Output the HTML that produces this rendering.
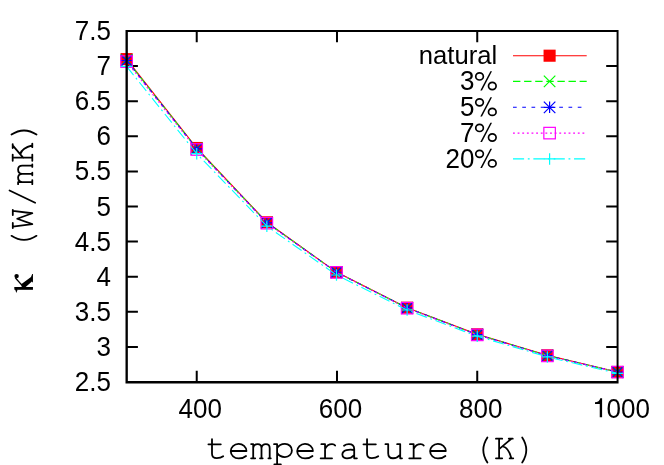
<!DOCTYPE html>
<html><head><meta charset="utf-8"><title>plot</title>
<style>
html,body{margin:0;padding:0;background:#fff;}
body{width:664px;height:465px;overflow:hidden;}
svg{display:block;will-change:transform;}
text{font-family:"Liberation Sans",sans-serif;fill:#000;}
.t{font-size:26px;}
.m{font-family:"Liberation Mono",monospace;}
.s{font-family:"Liberation Serif",serif;}
</style></head><body>
<svg width="664" height="465" viewBox="0 0 664 465">
<rect width="664" height="465" fill="#fff"/>
<path d="M126.6 66.10h11.3M617.5 66.10h-11.3M126.6 101.20h11.3M617.5 101.20h-11.3M126.6 136.30h11.3M617.5 136.30h-11.3M126.6 171.40h11.3M617.5 171.40h-11.3M126.6 206.50h11.3M617.5 206.50h-11.3M126.6 241.60h11.3M617.5 241.60h-11.3M126.6 276.70h11.3M617.5 276.70h-11.3M126.6 311.80h11.3M617.5 311.80h-11.3M126.6 346.90h11.3M617.5 346.90h-11.3M196.73 382.0v-11.3M196.73 31.0v11.3M336.99 382.0v-11.3M336.99 31.0v11.3M477.24 382.0v-11.3M477.24 31.0v11.3" stroke="#000" stroke-width="2.0" fill="none"/>
<g>
<text class="t" transform="translate(497.2,63.80) scale(0.987,1)" text-anchor="end">natural</text>
<path d="M513.0 55.7L586.7 55.7" stroke="#ff0000" stroke-width="1.1" fill="none"/>
<rect x="543.55" y="49.65" width="12.10" height="12.10" fill="#ff0000"/>
<polyline points="126.60,59.10 196.73,148.00 266.86,222.30 336.49,272.10 407.11,307.70 477.24,334.30 547.37,355.30 617.50,372.00" stroke="#ff0000" stroke-width="1.1" fill="none"/>
<rect x="120.55" y="53.05" width="12.10" height="12.10" fill="#ff0000"/>
<rect x="190.68" y="141.95" width="12.10" height="12.10" fill="#ff0000"/>
<rect x="260.81" y="216.25" width="12.10" height="12.10" fill="#ff0000"/>
<rect x="330.44" y="266.05" width="12.10" height="12.10" fill="#ff0000"/>
<rect x="401.06" y="301.65" width="12.10" height="12.10" fill="#ff0000"/>
<rect x="471.19" y="328.25" width="12.10" height="12.10" fill="#ff0000"/>
<rect x="541.32" y="349.25" width="12.10" height="12.10" fill="#ff0000"/>
<rect x="611.45" y="365.95" width="12.10" height="12.10" fill="#ff0000"/>
</g>
<g>
<text class="t" transform="translate(474.50,90.25) scale(1,1.04)" text-anchor="end">3</text><g transform="translate(497.60,90.25)"><path fill="#000" d="M-7.2 -19H-5.6L-15.6 0.3H-17.3Z"/><ellipse cx="-18.05" cy="-13.8" rx="3.8" ry="3.55" fill="none" stroke="#000" stroke-width="1.7"/><ellipse cx="-5.3" cy="-4.25" rx="3.8" ry="3.55" fill="none" stroke="#000" stroke-width="1.7"/></g>
<path d="M513.0 81.4L586.7 81.4" stroke="#00ff00" stroke-width="1.1" fill="none" stroke-dasharray="7.40 3.70"/>
<path d="M543.85 75.65L555.35 87.15M543.85 87.15L555.35 75.65" stroke="#00ff00" stroke-width="1.2" fill="none"/>
<polyline points="126.60,59.98 196.73,148.53 266.86,222.62 336.49,272.20 407.11,307.88 477.24,334.51 547.37,355.51 617.50,372.04" stroke="#00ff00" stroke-width="1.1" fill="none" stroke-dasharray="7.40 3.70"/>
<path d="M120.85 54.23L132.35 65.72M120.85 65.72L132.35 54.23" stroke="#00ff00" stroke-width="1.2" fill="none"/>
<path d="M190.98 142.78L202.48 154.28M190.98 154.28L202.48 142.78" stroke="#00ff00" stroke-width="1.2" fill="none"/>
<path d="M261.11 216.87L272.61 228.37M261.11 228.37L272.61 216.87" stroke="#00ff00" stroke-width="1.2" fill="none"/>
<path d="M330.74 266.45L342.24 277.95M330.74 277.95L342.24 266.45" stroke="#00ff00" stroke-width="1.2" fill="none"/>
<path d="M401.36 302.12L412.86 313.62M401.36 313.62L412.86 302.12" stroke="#00ff00" stroke-width="1.2" fill="none"/>
<path d="M471.49 328.76L482.99 340.26M471.49 340.26L482.99 328.76" stroke="#00ff00" stroke-width="1.2" fill="none"/>
<path d="M541.62 349.76L553.12 361.26M541.62 361.26L553.12 349.76" stroke="#00ff00" stroke-width="1.2" fill="none"/>
<path d="M611.75 366.29L623.25 377.79M611.75 377.79L623.25 366.29" stroke="#00ff00" stroke-width="1.2" fill="none"/>
</g>
<g>
<text class="t" transform="translate(474.50,116.15) scale(1,1.04)" text-anchor="end">5</text><g transform="translate(497.60,116.15)"><path fill="#000" d="M-7.2 -19H-5.6L-15.6 0.3H-17.3Z"/><ellipse cx="-18.05" cy="-13.8" rx="3.8" ry="3.55" fill="none" stroke="#000" stroke-width="1.7"/><ellipse cx="-5.3" cy="-4.25" rx="3.8" ry="3.55" fill="none" stroke="#000" stroke-width="1.7"/></g>
<path d="M513.0 107.3L586.7 107.3" stroke="#0000ff" stroke-width="1.1" fill="none" stroke-dasharray="3.70 5.55"/>
<path d="M543.85 101.55L555.35 113.05M543.85 113.05L555.35 101.55" stroke="#0000ff" stroke-width="1.2" fill="none"/><path d="M543.85 107.30L555.35 107.30M549.60 101.55L549.60 113.05" stroke="#0000ff" stroke-width="1.2" fill="none"/>
<polyline points="126.60,60.48 196.73,148.82 266.86,222.79 336.49,272.26 407.11,307.97 477.24,334.63 547.37,355.63 617.50,372.06" stroke="#0000ff" stroke-width="1.1" fill="none" stroke-dasharray="3.70 5.55"/>
<path d="M120.85 54.73L132.35 66.22M120.85 66.22L132.35 54.73" stroke="#0000ff" stroke-width="1.2" fill="none"/><path d="M120.85 60.48L132.35 60.48M126.60 54.73L126.60 66.22" stroke="#0000ff" stroke-width="1.2" fill="none"/>
<path d="M190.98 143.07L202.48 154.57M190.98 154.57L202.48 143.07" stroke="#0000ff" stroke-width="1.2" fill="none"/><path d="M190.98 148.82L202.48 148.82M196.73 143.07L196.73 154.57" stroke="#0000ff" stroke-width="1.2" fill="none"/>
<path d="M261.11 217.04L272.61 228.54M261.11 228.54L272.61 217.04" stroke="#0000ff" stroke-width="1.2" fill="none"/><path d="M261.11 222.79L272.61 222.79M266.86 217.04L266.86 228.54" stroke="#0000ff" stroke-width="1.2" fill="none"/>
<path d="M330.74 266.51L342.24 278.01M330.74 278.01L342.24 266.51" stroke="#0000ff" stroke-width="1.2" fill="none"/><path d="M330.74 272.26L342.24 272.26M336.49 266.51L336.49 278.01" stroke="#0000ff" stroke-width="1.2" fill="none"/>
<path d="M401.36 302.22L412.86 313.72M401.36 313.72L412.86 302.22" stroke="#0000ff" stroke-width="1.2" fill="none"/><path d="M401.36 307.97L412.86 307.97M407.11 302.22L407.11 313.72" stroke="#0000ff" stroke-width="1.2" fill="none"/>
<path d="M471.49 328.88L482.99 340.38M471.49 340.38L482.99 328.88" stroke="#0000ff" stroke-width="1.2" fill="none"/><path d="M471.49 334.63L482.99 334.63M477.24 328.88L477.24 340.38" stroke="#0000ff" stroke-width="1.2" fill="none"/>
<path d="M541.62 349.88L553.12 361.38M541.62 361.38L553.12 349.88" stroke="#0000ff" stroke-width="1.2" fill="none"/><path d="M541.62 355.63L553.12 355.63M547.37 349.88L547.37 361.38" stroke="#0000ff" stroke-width="1.2" fill="none"/>
<path d="M611.75 366.31L623.25 377.81M611.75 377.81L623.25 366.31" stroke="#0000ff" stroke-width="1.2" fill="none"/><path d="M611.75 372.06L623.25 372.06M617.50 366.31L617.50 377.81" stroke="#0000ff" stroke-width="1.2" fill="none"/>
</g>
<g>
<text class="t" transform="translate(474.50,141.75) scale(1,1.04)" text-anchor="end">7</text><g transform="translate(497.60,141.75)"><path fill="#000" d="M-7.2 -19H-5.6L-15.6 0.3H-17.3Z"/><ellipse cx="-18.05" cy="-13.8" rx="3.8" ry="3.55" fill="none" stroke="#000" stroke-width="1.7"/><ellipse cx="-5.3" cy="-4.25" rx="3.8" ry="3.55" fill="none" stroke="#000" stroke-width="1.7"/></g>
<path d="M513.0 133.1L586.7 133.1" stroke="#ff00ff" stroke-width="1.1" fill="none" stroke-dasharray="1.85 2.78"/>
<rect x="543.85" y="127.35" width="11.50" height="11.50" fill="none" stroke="#ff00ff" stroke-width="1.2"/>
<polyline points="126.60,61.60 196.73,149.50 266.86,223.20 336.49,272.40 407.11,308.20 477.24,334.90 547.37,355.90 617.50,372.10" stroke="#ff00ff" stroke-width="1.1" fill="none" stroke-dasharray="1.85 2.78"/>
<rect x="120.85" y="55.85" width="11.50" height="11.50" fill="none" stroke="#ff00ff" stroke-width="1.2"/>
<rect x="190.98" y="143.75" width="11.50" height="11.50" fill="none" stroke="#ff00ff" stroke-width="1.2"/>
<rect x="261.11" y="217.45" width="11.50" height="11.50" fill="none" stroke="#ff00ff" stroke-width="1.2"/>
<rect x="330.74" y="266.65" width="11.50" height="11.50" fill="none" stroke="#ff00ff" stroke-width="1.2"/>
<rect x="401.36" y="302.45" width="11.50" height="11.50" fill="none" stroke="#ff00ff" stroke-width="1.2"/>
<rect x="471.49" y="329.15" width="11.50" height="11.50" fill="none" stroke="#ff00ff" stroke-width="1.2"/>
<rect x="541.62" y="350.15" width="11.50" height="11.50" fill="none" stroke="#ff00ff" stroke-width="1.2"/>
<rect x="611.75" y="366.35" width="11.50" height="11.50" fill="none" stroke="#ff00ff" stroke-width="1.2"/>
</g>
<g>
<text class="t" transform="translate(474.50,167.65) scale(1,1.04)" text-anchor="end">20</text><g transform="translate(497.60,167.65)"><path fill="#000" d="M-7.2 -19H-5.6L-15.6 0.3H-17.3Z"/><ellipse cx="-18.05" cy="-13.8" rx="3.8" ry="3.55" fill="none" stroke="#000" stroke-width="1.7"/><ellipse cx="-5.3" cy="-4.25" rx="3.8" ry="3.55" fill="none" stroke="#000" stroke-width="1.7"/></g>
<path d="M513.0 158.9L586.7 158.9" stroke="#00ffff" stroke-width="1.1" fill="none" stroke-dasharray="11.10 3.70 1.85 3.70"/>
<path d="M543.85 158.90L555.35 158.90M549.60 153.15L549.60 164.65" stroke="#00ffff" stroke-width="1.2" fill="none"/>
<polyline points="126.60,66.40 196.73,153.70 266.86,226.20 336.49,275.00 407.11,310.00 477.24,336.20 547.37,356.90 617.50,373.40" stroke="#00ffff" stroke-width="1.1" fill="none" stroke-dasharray="11.10 3.70 1.85 3.70"/>
<path d="M120.85 66.40L132.35 66.40M126.60 60.65L126.60 72.15" stroke="#00ffff" stroke-width="1.2" fill="none"/>
<path d="M190.98 153.70L202.48 153.70M196.73 147.95L196.73 159.45" stroke="#00ffff" stroke-width="1.2" fill="none"/>
<path d="M261.11 226.20L272.61 226.20M266.86 220.45L266.86 231.95" stroke="#00ffff" stroke-width="1.2" fill="none"/>
<path d="M330.74 275.00L342.24 275.00M336.49 269.25L336.49 280.75" stroke="#00ffff" stroke-width="1.2" fill="none"/>
<path d="M401.36 310.00L412.86 310.00M407.11 304.25L407.11 315.75" stroke="#00ffff" stroke-width="1.2" fill="none"/>
<path d="M471.49 336.20L482.99 336.20M477.24 330.45L477.24 341.95" stroke="#00ffff" stroke-width="1.2" fill="none"/>
<path d="M541.62 356.90L553.12 356.90M547.37 351.15L547.37 362.65" stroke="#00ffff" stroke-width="1.2" fill="none"/>
<path d="M611.75 373.40L623.25 373.40M617.50 367.65L617.50 379.15" stroke="#00ffff" stroke-width="1.2" fill="none"/>
</g>
<path fill="#000" d="M125.5 30H618.55V32H125.5ZM125.5 381H618.55V383.5H125.5ZM125.5 30H127.85V383.5H125.5ZM616.6 30H618.55V383.5H616.6Z"/>
<text class="t" transform="translate(111.00,40.07) scale(1,1.04)" text-anchor="end">7.5</text>
<text class="t" transform="translate(111.00,75.17) scale(1,1.04)" text-anchor="end">7</text>
<text class="t" transform="translate(111.00,110.27) scale(1,1.04)" text-anchor="end">6.5</text>
<text class="t" transform="translate(111.00,145.37) scale(1,1.04)" text-anchor="end">6</text>
<text class="t" transform="translate(111.00,180.47) scale(1,1.04)" text-anchor="end">5.5</text>
<text class="t" transform="translate(111.00,215.57) scale(1,1.04)" text-anchor="end">5</text>
<text class="t" transform="translate(111.00,250.67) scale(1,1.04)" text-anchor="end">4.5</text>
<text class="t" transform="translate(111.00,285.77) scale(1,1.04)" text-anchor="end">4</text>
<text class="t" transform="translate(111.00,320.87) scale(1,1.04)" text-anchor="end">3.5</text>
<text class="t" transform="translate(111.00,355.97) scale(1,1.04)" text-anchor="end">3</text>
<text class="t" transform="translate(111.00,391.07) scale(1,1.04)" text-anchor="end">2.5</text>
<text class="t" transform="translate(200.23,417.80) scale(1,1.04)" text-anchor="middle">400</text>
<text class="t" transform="translate(340.49,417.80) scale(1,1.04)" text-anchor="middle">600</text>
<text class="t" transform="translate(480.74,417.80) scale(1,1.04)" text-anchor="middle">800</text>
<text class="t" transform="translate(649.92,417.80) scale(1,1.04)" text-anchor="end">000</text>
<path fill="#000" d="M602.1 398.2V417.3H599.75V403.9H595V402.2C597.9 402.1 599.6 400.9 600.3 398.2Z"/>
<g transform="translate(205.5,458.3)" stroke="#000" stroke-width="1.8" fill="none" stroke-linecap="round" stroke-linejoin="round"><path transform="translate(0.00,0)" d="M6.5 -19.1V-4.6Q6.5 -0.1 11.3 -0.1Q15.3 -0.1 17.7 -2M2.9 -14H15.3"/><path transform="translate(22.15,0)" d="M18.8 -7.3H3.1M18.8 -7.3A7.85 7.3 0 1 0 10.95 0.15Q15.6 0.15 18.4 -2.3"/><path transform="translate(44.30,0)" d="M1.3 -14.2H3.4V0M1.3 0H5.4M3.4 -10.3Q3.9 -14.2 7.9 -14.2Q11.7 -14.2 11.7 -10V0M10.2 0H12.9M11.7 -10.3Q12.2 -14.2 16.1 -14.2Q19.9 -14.2 19.9 -10V0M18.6 0H21"/><path transform="translate(66.45,0)" d="M2.1 -14.1H5.15V6M2.4 6H8.9M5.15 -10.2C6.8 -13.2 10 -14.45 13 -14.45C17 -14.45 19.95 -11.6 19.95 -7.85C19.95 -4.1 17 -1.25 13 -1.25C10 -1.25 6.8 -2.5 5.15 -5.5"/><path transform="translate(88.60,0)" d="M18.8 -7.3H3.1M18.8 -7.3A7.85 7.3 0 1 0 10.95 0.15Q15.6 0.15 18.4 -2.3"/><path transform="translate(110.75,0)" d="M5.1 -14.1H8.8V0M4.4 0H15.8M8.8 -9.3Q11 -14.2 15.8 -14.2Q18 -14.2 18.9 -12.8"/><path transform="translate(132.90,0)" d="M5.6 -12.6Q7.6 -14.2 10.5 -14.2Q15.8 -14.2 15.8 -9.5V0H18.5M15.8 -8.3C11 -9.4 3.95 -8.4 3.95 -3.7C3.95 -0.9 6.5 0.1 8.6 0.1C11.5 0.1 14 -1.2 15.8 -3.2"/><path transform="translate(155.05,0)" d="M6.5 -19.1V-4.6Q6.5 -0.1 11.3 -0.1Q15.3 -0.1 17.7 -2M2.9 -14H15.3"/><path transform="translate(177.20,0)" d="M2.75 -14.1H5.5V-5Q5.5 -0.05 10.3 -0.05Q14.5 -0.05 17.5 -3.4M14.45 -14.1H17.5V0H19.3"/><path transform="translate(199.35,0)" d="M5.1 -14.1H8.8V0M4.4 0H15.8M8.8 -9.3Q11 -14.2 15.8 -14.2Q18 -14.2 18.9 -12.8"/><path transform="translate(221.50,0)" d="M18.8 -7.3H3.1M18.8 -7.3A7.85 7.3 0 1 0 10.95 0.15Q15.6 0.15 18.4 -2.3"/><path transform="translate(265.80,0)" d="M16.1 -20.8Q7.9 -8.3 16.1 4.2"/><path transform="translate(287.95,0)" d="M2.5 -19.6H8.75M2.5 0H8.75M5.65 -19.6V0M15.3 -19.6H19.3M16.2 0H19.8M5.65 -9.2L17.9 -19.6M9.7 -11.8Q15.2 -10.3 17.9 0"/><path transform="translate(310.10,0)" d="M6.6 -20.8Q14.8 -8.3 6.6 4.2"/></g>
<g transform="translate(32.3,251.95) rotate(-90)" stroke="#000" stroke-width="1.8" fill="none" stroke-linecap="round" stroke-linejoin="round"><path transform="translate(0.00,0)" d="M16.1 -20.8Q7.9 -8.3 16.1 4.2"/><path transform="translate(22.15,0)" d="M1.7 -19.5H6.9M14.8 -19.5H20M3.15 -19.5L5.6 0L11.07 -15.1L16.55 0L19 -19.5"/><path transform="translate(44.30,0)" d="M4.96 2.86L17.14 -22.76"/><path transform="translate(66.45,0)" d="M1.3 -14.2H3.4V0M1.3 0H5.4M3.4 -10.3Q3.9 -14.2 7.9 -14.2Q11.7 -14.2 11.7 -10V0M10.2 0H12.9M11.7 -10.3Q12.2 -14.2 16.1 -14.2Q19.9 -14.2 19.9 -10V0M18.6 0H21"/><path transform="translate(88.60,0)" d="M2.5 -19.6H8.75M2.5 0H8.75M5.65 -19.6V0M15.3 -19.6H19.3M16.2 0H19.8M5.65 -9.2L17.9 -19.6M9.7 -11.8Q15.2 -10.3 17.9 0"/><path transform="translate(110.75,0)" d="M6.6 -20.8Q14.8 -8.3 6.6 4.2"/></g>
<g fill="#000"><rect x="14.4" y="287" width="18.55" height="2.8"/><path d="M14.4 287L16.3 293L17.6 289.8Z"/><path d="M21.2 284.3L31 276.9L32.2 273.9L32.95 273.9L32.95 282.7L31.9 281.4L25.4 287.3L21.8 287.3Z"/><circle cx="16.6" cy="276.1" r="2.2"/><path d="M15.3 277.6Q17.6 280.6 22.6 285.8" stroke="#000" stroke-width="1.4" fill="none"/></g>
</svg></body></html>
